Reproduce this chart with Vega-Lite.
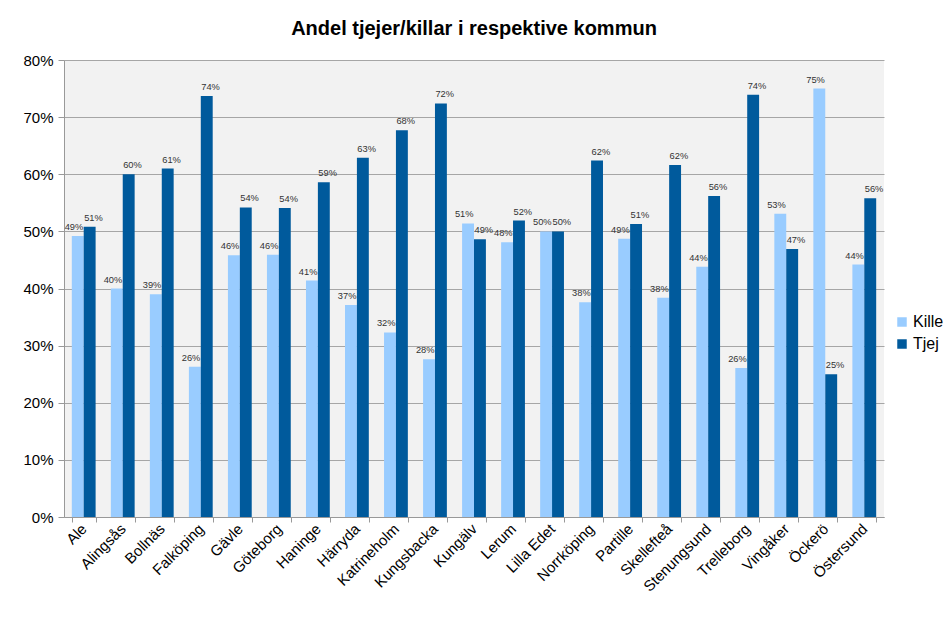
{
  "$schema": "https://vega.github.io/schema/vega-lite/v6.json",
  "width": 820,
  "height": 457,
  "padding": {"left": 22, "top": 19, "right": 5, "bottom": 5},
  "background": "white",
  "title": {
    "text": "Andel tjejer/killar i respektive kommun",
    "font": "Liberation Sans",
    "fontSize": 20,
    "fontWeight": "bold",
    "color": "black",
    "anchor": "middle",
    "offset": 14
  },
  "data": {
    "values": [
      {"kommun": "Ale", "kon": "Kille", "andel": 0.492},
      {"kommun": "Ale", "kon": "Tjej", "andel": 0.508},
      {"kommun": "Alingsås", "kon": "Kille", "andel": 0.400},
      {"kommun": "Alingsås", "kon": "Tjej", "andel": 0.600},
      {"kommun": "Bollnäs", "kon": "Kille", "andel": 0.390},
      {"kommun": "Bollnäs", "kon": "Tjej", "andel": 0.610},
      {"kommun": "Falköping", "kon": "Kille", "andel": 0.263},
      {"kommun": "Falköping", "kon": "Tjej", "andel": 0.737},
      {"kommun": "Gävle", "kon": "Kille", "andel": 0.458},
      {"kommun": "Gävle", "kon": "Tjej", "andel": 0.542},
      {"kommun": "Göteborg", "kon": "Kille", "andel": 0.459},
      {"kommun": "Göteborg", "kon": "Tjej", "andel": 0.541},
      {"kommun": "Haninge", "kon": "Kille", "andel": 0.414},
      {"kommun": "Haninge", "kon": "Tjej", "andel": 0.586},
      {"kommun": "Härryda", "kon": "Kille", "andel": 0.371},
      {"kommun": "Härryda", "kon": "Tjej", "andel": 0.629},
      {"kommun": "Katrineholm", "kon": "Kille", "andel": 0.323},
      {"kommun": "Katrineholm", "kon": "Tjej", "andel": 0.677},
      {"kommun": "Kungsbacka", "kon": "Kille", "andel": 0.276},
      {"kommun": "Kungsbacka", "kon": "Tjej", "andel": 0.724},
      {"kommun": "Kungälv", "kon": "Kille", "andel": 0.514},
      {"kommun": "Kungälv", "kon": "Tjej", "andel": 0.486},
      {"kommun": "Lerum", "kon": "Kille", "andel": 0.481},
      {"kommun": "Lerum", "kon": "Tjej", "andel": 0.519},
      {"kommun": "Lilla Edet", "kon": "Kille", "andel": 0.500},
      {"kommun": "Lilla Edet", "kon": "Tjej", "andel": 0.500},
      {"kommun": "Norrköping", "kon": "Kille", "andel": 0.376},
      {"kommun": "Norrköping", "kon": "Tjej", "andel": 0.624},
      {"kommun": "Partille", "kon": "Kille", "andel": 0.487},
      {"kommun": "Partille", "kon": "Tjej", "andel": 0.513},
      {"kommun": "Skellefteå", "kon": "Kille", "andel": 0.384},
      {"kommun": "Skellefteå", "kon": "Tjej", "andel": 0.616},
      {"kommun": "Stenungsund", "kon": "Kille", "andel": 0.438},
      {"kommun": "Stenungsund", "kon": "Tjej", "andel": 0.562},
      {"kommun": "Trelleborg", "kon": "Kille", "andel": 0.261},
      {"kommun": "Trelleborg", "kon": "Tjej", "andel": 0.739},
      {"kommun": "Vingåker", "kon": "Kille", "andel": 0.531},
      {"kommun": "Vingåker", "kon": "Tjej", "andel": 0.469},
      {"kommun": "Öckerö", "kon": "Kille", "andel": 0.750},
      {"kommun": "Öckerö", "kon": "Tjej", "andel": 0.250},
      {"kommun": "Östersund", "kon": "Kille", "andel": 0.442},
      {"kommun": "Östersund", "kon": "Tjej", "andel": 0.558}
    ]
  },
  "encoding": {
    "x": {
      "field": "kommun",
      "type": "nominal",
      "sort": null,
      "title": null,
      "scale": {"paddingInner": 0.39, "paddingOuter": 0.2},
      "axis": {
        "labelAngle": -45,
        "labelAlign": "right",
        "labelBaseline": "middle",
        "labelFont": "Liberation Sans",
        "labelFontSize": 15,
        "labelColor": "black",
        "labelPadding": 4,
        "tickBand": "extent",
        "tickColor": "#999999",
        "tickSize": 5,
        "domainColor": "#999999",
        "grid": false
      }
    },
    "xOffset": {"field": "kon", "type": "nominal"},
    "y": {
      "field": "andel",
      "type": "quantitative",
      "title": null,
      "scale": {"domain": [0, 0.8], "nice": false},
      "axis": {
        "format": ".0%",
        "values": [0, 0.1, 0.2, 0.3, 0.4, 0.5, 0.6, 0.7, 0.8],
        "labelFont": "Liberation Sans",
        "labelFontSize": 15,
        "labelColor": "black",
        "labelPadding": 5,
        "tickColor": "#999999",
        "tickSize": 6,
        "domainColor": "#999999",
        "gridColor": "#a6a6a6",
        "gridWidth": 1.2
      }
    }
  },
  "layer": [
    {
      "mark": {"type": "bar"},
      "encoding": {
        "color": {
          "field": "kon",
          "type": "nominal",
          "scale": {"domain": ["Kille", "Tjej"], "range": ["#99ccff", "#005a9c"]},
          "legend": {
            "title": null,
            "orient": "none",
            "legendX": 830,
            "legendY": 254,
            "symbolType": "square",
            "symbolSize": 90,
            "symbolStrokeWidth": 0,
            "labelFont": "Liberation Sans",
            "labelFontSize": 16,
            "labelColor": "black",
            "labelOffset": 3,
            "rowPadding": 6
          }
        }
      }
    },
    {
      "transform": [{"filter": "datum.kon === 'Kille'"}],
      "mark": {"type": "text", "baseline": "bottom", "dy": -4, "dx": -3.8, "font": "Liberation Sans", "fontSize": 9.3, "color": "#333333"},
      "encoding": {
        "text": {"field": "andel", "type": "quantitative", "format": ".0%"}
      }
    },
    {
      "transform": [{"filter": "datum.kon === 'Tjej'"}],
      "mark": {"type": "text", "baseline": "bottom", "dy": -4, "dx": 3.8, "font": "Liberation Sans", "fontSize": 9.3, "color": "#333333"},
      "encoding": {
        "text": {"field": "andel", "type": "quantitative", "format": ".0%"}
      }
    }
  ],
  "config": {
    "view": {"fill": "#f2f2f2", "stroke": null}
  }
}
